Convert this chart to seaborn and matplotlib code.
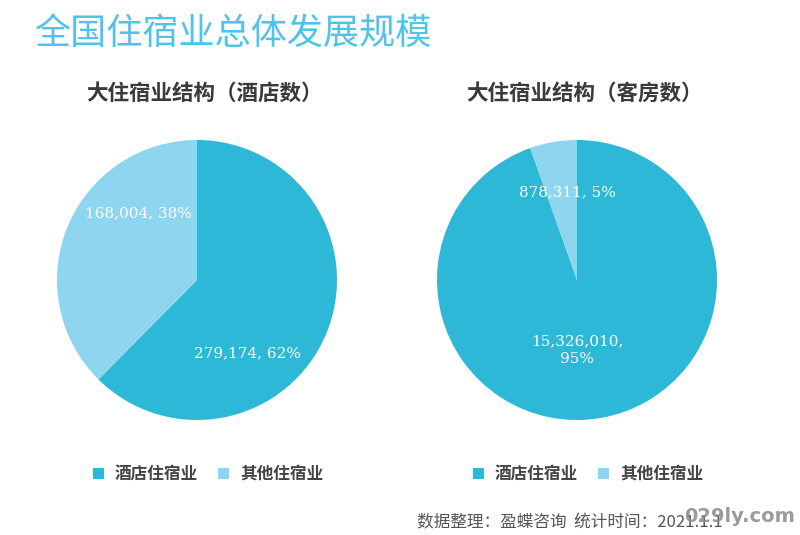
import matplotlib
matplotlib.use("Agg")
import matplotlib.pyplot as plt
import seaborn as sns
import numpy as np
from matplotlib.patches import Patch

sns.set_theme(style="white")
plt.rcParams['font.family'] = ['Noto Sans CJK SC', 'DejaVu Sans']

title = "全国住宿业总体发展规模"
subtitles = ["大住宿业结构（酒店数）", "大住宿业结构（客房数）"]
categories = ["酒店住宿业", "其他住宿业"]
hotel_counts = [279174, 168004]
hotel_pcts = [62, 38]
room_counts = [15326010, 878311]
room_pcts = [95, 5]
footer = "数据整理：盈蝶咨询  统计时间：2021.1.1"
watermark = "029ly.com"

colors = ["#2DB8D7", "#8ED6F0"]

W, H = 800, 535
fig = plt.figure(figsize=(W / 100, H / 100), dpi=100)
fig.patch.set_facecolor("white")

fig.text(34 / W, 1 - 34 / H, title, fontsize=26, color="#4FC4EA", va="center", ha="left")

R = 140
centers = [(197, 280), (577, 280)]
datasets = [(hotel_counts, hotel_pcts), (room_counts, room_pcts)]
# label offsets (in radius units) for [dark, light]
label_pos = [[(0.36, -0.52), (-0.42, 0.48)], [(0.0, -0.50), (-0.07, 0.63)]]
label_fmt = [["{v}, {p}%", "{v}, {p}%"], ["{v},\n{p}%", "{v}, {p}%"]]

for i, (cx, cy) in enumerate(centers):
    ax = fig.add_axes([(cx - R) / W, 1 - (cy + R) / H, 2 * R / W, 2 * R / H])
    vals, pcts = datasets[i]
    ax.pie(vals, colors=colors, startangle=90, counterclock=False,
           wedgeprops=dict(linewidth=0), radius=1)
    ax.set_xlim(-1, 1)
    ax.set_ylim(-1, 1)
    ax.set_aspect("equal")
    for j in range(2):
        s = label_fmt[i][j].format(v=f"{vals[j]:,}", p=pcts[j])
        x, y = label_pos[i][j]
        ax.text(x, y, s, ha="center", va="center", color="white",
                fontsize=11, family="DejaVu Serif", linespacing=1.3)
    fig.text((cx + 7) / W, 1 - 93 / H, subtitles[i], fontsize=15.5, fontweight="bold",
             color="#3a3a3a", ha="center", va="center")
    handles = [Patch(facecolor=c, edgecolor="none") for c in colors]
    leg = fig.legend(handles, categories, loc="center", bbox_to_anchor=((cx + 11) / W, 1 - 474 / H),
                     ncol=2, frameon=False, handlelength=0.65, handleheight=0.65,
                     handletextpad=0.65, columnspacing=1.25, borderpad=0, borderaxespad=0,
                     prop=dict(family="Noto Sans CJK SC", weight="bold", size=12))
    for t in leg.get_texts():
        t.set_color("#444444")

fig.text(417 / W, 1 - 523 / H, footer, fontsize=12, color="#555555", ha="left", va="center")
fig.text(795 / W, 1 - 517 / H, watermark, fontsize=14, fontweight="bold", color="#8a8a8a",
         ha="right", va="center", family="DejaVu Sans", alpha=0.85)

fig.savefig("out.png", dpi=100, facecolor="white")
